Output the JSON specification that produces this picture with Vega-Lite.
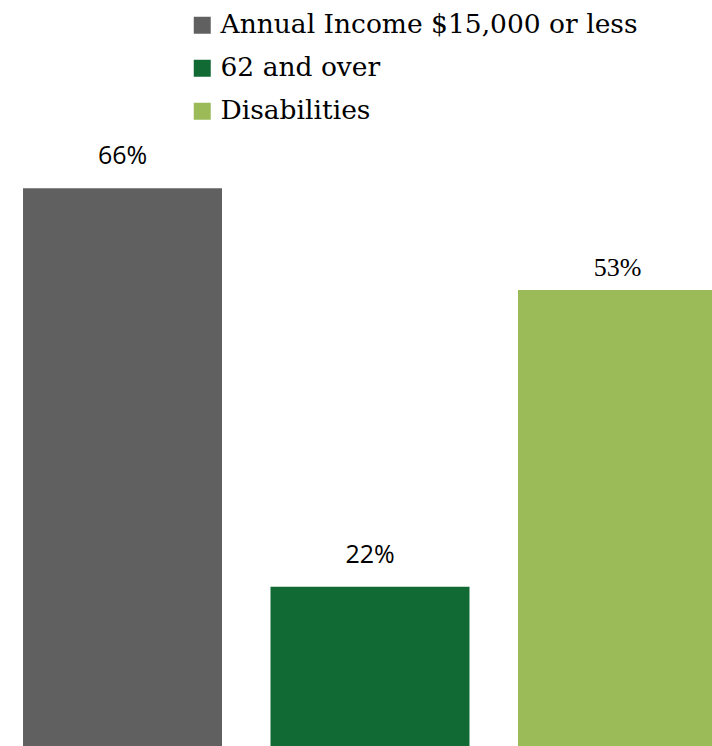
{
  "$schema": "https://vega.github.io/schema/vega-lite/v6.json",
  "width": 740,
  "height": 746,
  "autosize": {"type": "none"},
  "padding": 0,
  "background": "white",
  "config": {"view": {"stroke": null}},
  "data": {
    "values": [
      {"group": "Annual Income $15,000 or less", "bar": 65.8, "label": "66%", "font": "sans"},
      {"group": "62 and over", "bar": 18.8, "label": "22%", "font": "sans"},
      {"group": "Disabilities", "bar": 53.8, "label": "53%", "font": "serif"}
    ]
  },
  "encoding": {
    "x": {
      "field": "group",
      "type": "nominal",
      "sort": ["Annual Income $15,000 or less", "62 and over", "Disabilities"],
      "axis": null,
      "scale": {"paddingInner": 0.196, "paddingOuter": 0.093}
    },
    "y": {
      "field": "bar",
      "type": "quantitative",
      "axis": null,
      "scale": {"domain": [0, 88], "nice": false}
    }
  },
  "layer": [
    {
      "mark": {"type": "bar"},
      "encoding": {
        "color": {
          "field": "group",
          "type": "nominal",
          "sort": ["Annual Income $15,000 or less", "62 and over", "Disabilities"],
          "scale": {
            "domain": ["Annual Income $15,000 or less", "62 and over", "Disabilities"],
            "range": ["#606060", "#116A33", "#9BBB59"]
          },
          "legend": {
            "orient": "none",
            "legendX": 189,
            "legendY": 12,
            "title": null,
            "symbolType": "square",
            "symbolSize": 289,
            "symbolStrokeWidth": 0,
            "labelFont": "DejaVu Serif",
            "labelFontSize": 26.5,
            "labelColor": "#000000",
            "labelOffset": 5,
            "rowPadding": 16,
            "labelLimit": 600
          }
        }
      }
    },
    {
      "transform": [{"filter": "datum.font === 'sans'"}],
      "mark": {"type": "text", "font": "Open Sans", "fontSize": 25, "color": "#000000", "baseline": "alphabetic", "dy": -24},
      "encoding": {"text": {"field": "label"}}
    },
    {
      "transform": [{"filter": "datum.font === 'serif'"}],
      "mark": {"type": "text", "font": "Liberation Serif", "fontSize": 26, "color": "#000000", "baseline": "alphabetic", "dy": -14},
      "encoding": {"text": {"field": "label"}}
    }
  ]
}
